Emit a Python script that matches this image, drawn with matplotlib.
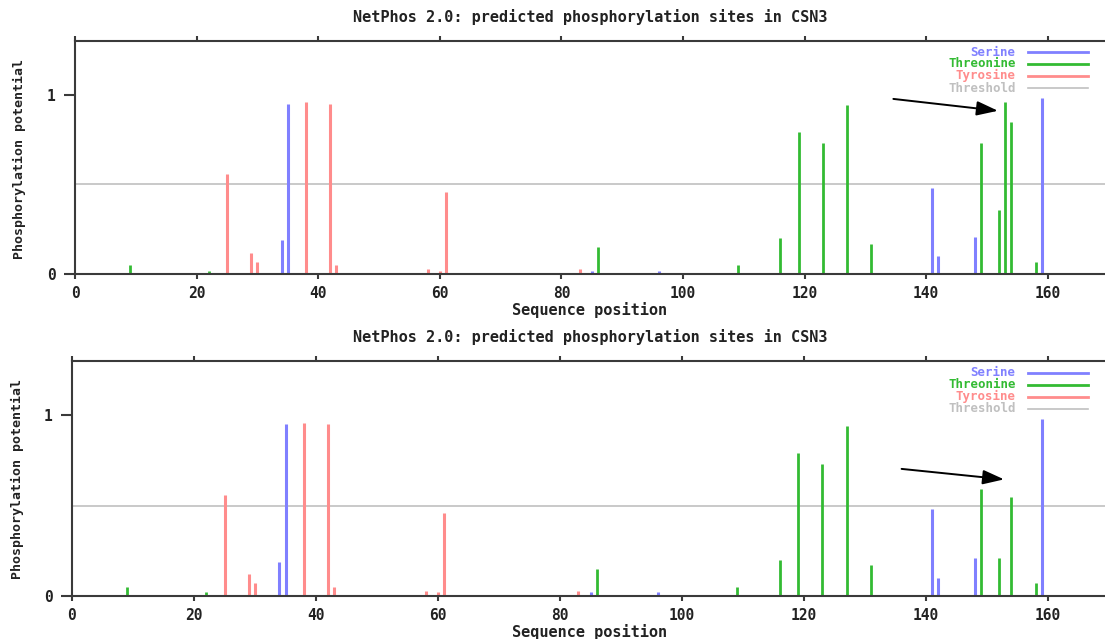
import numpy as np
import matplotlib
matplotlib.use('Agg')
import matplotlib.pyplot as plt
from matplotlib.lines import Line2D

# values
serine_pos = [34, 35, 85, 96, 141, 142, 148, 159]
serine_val = [0.19, 0.95, 0.02, 0.02, 0.48, 0.10, 0.21, 0.98]

tyrosine_pos = [25, 29, 30, 38, 42, 43, 58, 60, 61, 83]
tyrosine_val = [0.56, 0.12, 0.07, 0.96, 0.95, 0.05, 0.03, 0.02, 0.46, 0.03]

# threonine differs between the two panels
thr_pos_top = [9, 22, 86, 109, 116, 119, 123, 127, 131, 149, 152, 153, 154, 158]
thr_val_top = [0.05, 0.02, 0.15, 0.05, 0.20, 0.79, 0.73, 0.94, 0.17, 0.73, 0.36, 0.96, 0.85, 0.07]
thr_pos_bot = [9, 22, 86, 109, 116, 119, 123, 127, 131, 149, 152, 154, 158]
thr_val_bot = [0.05, 0.02, 0.15, 0.05, 0.20, 0.79, 0.73, 0.94, 0.17, 0.59, 0.21, 0.55, 0.07]

threshold = 0.5
x_ticks = [0, 20, 40, 60, 80, 100, 120, 140, 160]
y_ticks = [0, 1]
title = 'NetPhos 2.0: predicted phosphorylation sites in CSN3'
legend_labels = ['Serine', 'Threonine', 'Tyrosine', 'Threshold']

# arrow annotations (start, tip) in data units
arrow_top = [(134.6, 0.976), (151.8, 0.91)]
arrow_bot = [(136.0, 0.704), (152.8, 0.646)]

c_ser = '#8080ff'
c_thr = '#33bb33'
c_tyr = '#ff8c8c'
c_thresh = '#c0c0c0'
c_axis = '#3a3a3a'
mono = 'DejaVu Sans Mono'

fig = plt.figure(figsize=(11.05, 6.39), dpi=100)
fig.patch.set_facecolor('white')

W, H = 1105.0, 639.0


def panel(rect, thr_pos, thr_val, arrow):
    ax = fig.add_axes(rect)
    ax.set_xlim(0, 170)
    ax.set_ylim(0, 1.3)

    ax.axhline(threshold, color=c_thresh, lw=1.2, zorder=1)
    ax.vlines(tyrosine_pos, 0, tyrosine_val, colors=c_tyr, lw=2.2, zorder=2)
    ax.vlines(serine_pos, 0, serine_val, colors=c_ser, lw=2.2, zorder=2)
    ax.vlines(thr_pos, 0, thr_val, colors=c_thr, lw=2.0, zorder=2)

    for s in ['left', 'bottom', 'top']:
        ax.spines[s].set_color(c_axis)
        ax.spines[s].set_linewidth(1.5)
    ax.spines['right'].set_visible(False)

    ax.set_xticks(x_ticks)
    ax.set_yticks(y_ticks)
    ax.set_yticklabels([str(v) for v in y_ticks])
    ax.tick_params(axis='x', direction='out', length=3.5, width=1.5, color=c_axis,
                   top=True, labeltop=False, pad=5, labelsize=10.5, labelcolor='#222222')
    ax.tick_params(axis='y', direction='out', length=8, width=1.5, color=c_axis,
                   pad=6, labelsize=10.5, labelcolor='#222222')
    for lab in ax.get_xticklabels() + ax.get_yticklabels():
        lab.set_family(mono)
        lab.set_weight('bold')

    # legend drawn by hand: right aligned labels, line to their right
    rows = [0.951, 0.901, 0.850, 0.797]
    cols = [c_ser, c_thr, c_tyr, c_thresh]
    widths = [2.0, 2.0, 2.0, 1.2]
    for lab, yy, cc, lw in zip(legend_labels, rows, cols, widths):
        ax.text(0.910, yy, lab, transform=ax.transAxes, ha='right', va='center',
                color=cc, family=mono, fontsize=9, fontweight='bold')
        ax.add_line(Line2D([0.922, 0.980], [yy, yy], transform=ax.transAxes,
                           color=cc, lw=lw))

    ax.annotate('', xy=arrow[1], xytext=arrow[0],
                arrowprops=dict(arrowstyle='-|>,head_length=0.65,head_width=0.22',
                                color='black', lw=1.4, mutation_scale=20,
                                shrinkA=0, shrinkB=0))
    return ax


ax1 = panel([75 / W, 1 - 274.3 / H, 170 * 6.08 / W, 233.6 / H],
            thr_pos_top, thr_val_top, arrow_top)
ax2 = panel([72 / W, 1 - 596 / H, 170 * 6.1 / W, 234.7 / H],
            thr_pos_bot, thr_val_bot, arrow_bot)

# titles and axis labels
for ty, xly, yly, yx in [(16.7, 310, 159, 19.6), (336.7, 631.5, 479, 17)]:
    fig.text(590 / W, 1 - ty / H, title, ha='center', va='center',
             family=mono, fontsize=11, fontweight='bold', color='#222222')
    fig.text(590 / W, 1 - xly / H, 'Sequence position', ha='center', va='center',
             family=mono, fontsize=11, fontweight='bold', color='#222222')
    fig.text(yx / W, 1 - yly / H, 'Phosphorylation potential', ha='center', va='center',
             rotation=90, family=mono, fontsize=9.5, fontweight='bold', color='#222222')

fig.savefig('out.png', dpi=100, facecolor='white')
